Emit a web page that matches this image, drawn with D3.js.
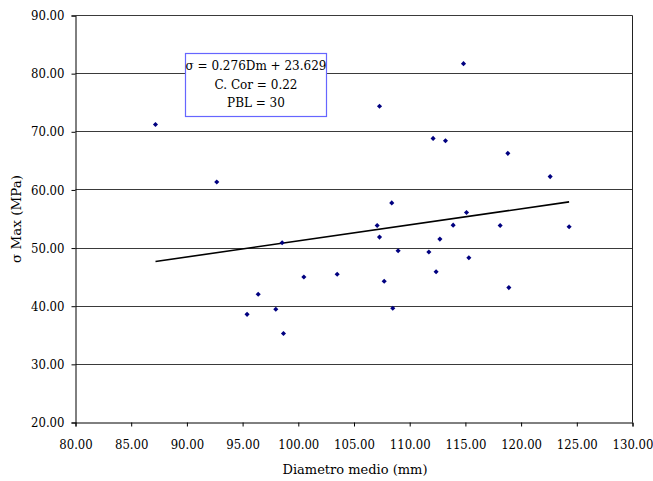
<!DOCTYPE html>
<html>
<head>
<meta charset="utf-8">
<script src="https://cdn.jsdelivr.net/npm/d3@7"></script>
<style>
  html, body { margin: 0; padding: 0; background: #fff; }
  svg text { font-family: "DejaVu Serif", serif; fill: #000; }
  .tick text { font-stretch: condensed; }
</style>
</head>
<body>
<svg id="chart" width="653" height="481"></svg>
<script>
// ---- data ----
const diametro = [87.18, 92.68, 95.40, 96.40, 97.98, 98.67, 98.55, 100.50, 103.49, 107.08,
                  107.29, 107.29, 107.71, 108.39, 108.48, 108.96, 111.72, 112.10, 112.37, 112.71,
                  113.21, 113.90, 114.83, 115.10, 115.31, 118.12, 118.81, 118.90, 122.61, 124.31];
const sigmaMax = [71.26, 61.37, 38.60, 42.06, 39.49, 35.31, 50.91, 45.03, 45.49, 53.89,
                  51.89, 74.40, 44.29, 57.77, 39.66, 49.54, 49.32, 68.86, 45.94, 51.54,
                  68.46, 53.94, 81.72, 56.12, 48.34, 53.89, 66.29, 43.20, 62.29, 53.66];
const xTicks = [80, 85, 90, 95, 100, 105, 110, 115, 120, 125, 130];
const yTicks = [20, 30, 40, 50, 60, 70, 80, 90];
const trendCoef = [0.276, 23.629]; // slope, intercept
const annotation = ["σ = 0.276Dm + 23.629", "C. Cor = 0.22", "PBL = 30"];
const xTitle = "Diametro medio (mm)";
const yTitle = "σ Max (MPa)";

// ---- layout ----
const FONT = '"DejaVu Serif", serif';
const TICKFONT = '"DejaVu Serif Condensed", "DejaVu Serif", serif';
const pL = 75.5, pR = 632.5, pT = 15.5, pB = 422.5;
const svg = d3.select("#chart");
const x = d3.scaleLinear().domain([80, 130]).range([pL, pR]);
const y = d3.scaleLinear().domain([20, 90]).range([pB, pT]);

// gridlines
svg.append("g").selectAll("line").data(yTicks.filter(v => v > 20)).join("line")
  .attr("x1", pL).attr("x2", pR)
  .attr("y1", d => Math.round(y(d) - 0.5) + 0.5).attr("y2", d => Math.round(y(d) - 0.5) + 0.5)
  .attr("stroke", "#3a3a3a").attr("stroke-width", 1);
// right border
svg.append("line").attr("x1", pR).attr("x2", pR).attr("y1", pT).attr("y2", pB)
  .attr("stroke", "#222");

// axes
const yAxis = d3.axisLeft(y).tickValues(yTicks).tickFormat(d3.format(".2f")).tickSizeOuter(0).tickSize(4).tickPadding(7);
const xAxis = d3.axisBottom(x).tickValues(xTicks).tickFormat(d3.format(".2f")).tickSizeOuter(0).tickSize(4).tickPadding(13);
const gy = svg.append("g").attr("transform", `translate(${pL},0)`).call(yAxis);
const gx = svg.append("g").attr("transform", `translate(0,${pB})`).call(xAxis);
[gy, gx].forEach(g => {
  g.attr("font-family", TICKFONT).attr("font-size", 13);
  g.selectAll("text").attr("fill", "#000");
  g.selectAll("line,path").attr("stroke", "#000");
});

// trend line
const xExt = d3.extent(diametro);
svg.append("line")
  .attr("x1", x(xExt[0])).attr("y1", y(trendCoef[0] * xExt[0] + trendCoef[1]))
  .attr("x2", x(xExt[1])).attr("y2", y(trendCoef[0] * xExt[1] + trendCoef[1]))
  .attr("stroke", "#000").attr("stroke-width", 1.6);

// points
const pts = diametro.map((d, i) => [d, sigmaMax[i]]);
svg.append("g").selectAll("path").data(pts).join("path")
  .attr("d", d3.symbol(d3.symbolSquare, 13))
  .attr("transform", d => `translate(${x(d[0])},${y(d[1])}) rotate(45)`)
  .attr("fill", "#000080");

// annotation box
const bx = 185.5, by = 53.5, bw = 141, bh = 63;
svg.append("rect").attr("x", bx).attr("y", by).attr("width", bw).attr("height", bh)
  .attr("fill", "#fff").attr("stroke", "#6666ff").attr("stroke-width", 1.2);
svg.append("g").attr("font-family", FONT).attr("font-size", 12)
  .selectAll("text").data(annotation).join("text")
  .attr("x", bx + bw / 2).attr("y", (d, i) => 70 + i * 18.5)
  .attr("text-anchor", "middle").text(d => d);

// axis titles
svg.append("text").attr("x", 355).attr("y", 474)
  .attr("font-family", FONT).attr("font-size", 13)
  .attr("text-anchor", "middle").text(xTitle);
svg.append("text").attr("transform", `translate(21,219) rotate(-90)`)
  .attr("font-family", FONT).attr("font-size", 13.5)
  .attr("text-anchor", "middle").text(yTitle);
</script>
</body>
</html>
